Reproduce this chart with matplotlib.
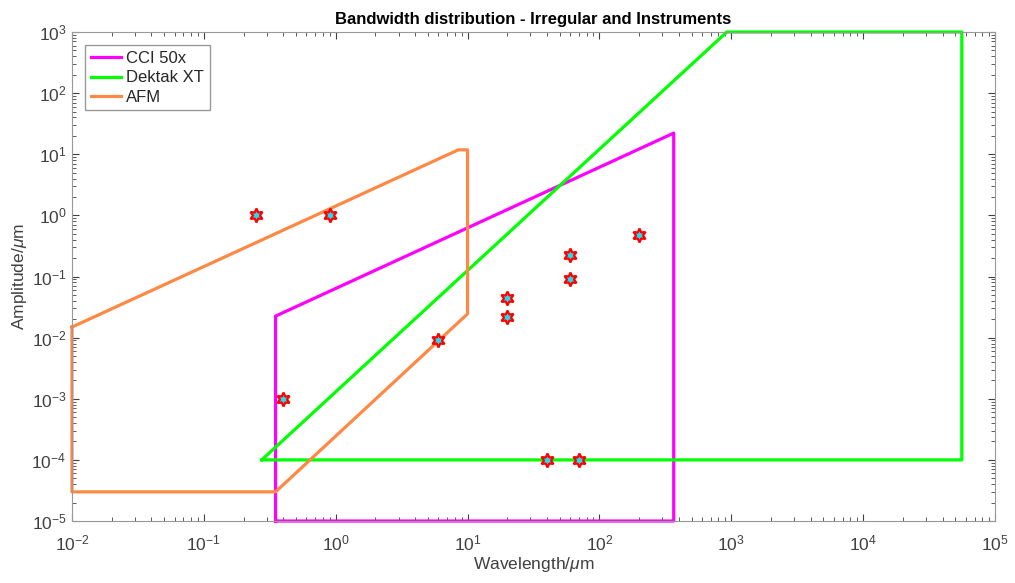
import matplotlib
matplotlib.use("Agg")
import matplotlib.pyplot as plt

plt.rcParams['font.family'] = ['Liberation Sans', 'DejaVu Sans']
plt.rcParams['mathtext.fontset'] = 'custom'
plt.rcParams['mathtext.rm'] = 'Liberation Sans'
plt.rcParams['mathtext.it'] = 'Liberation Sans:italic'

# instrument bandwidth outlines (wavelength um, amplitude um)
cci_x = [0.35, 0.35, 366, 366, 0.35]
cci_y = [1e-5, 0.0225, 22.2, 1e-5, 1e-5]

dektak_x = [0.275, 925, 5.6e4, 5.6e4, 0.275]
dektak_y = [1e-4, 1e3, 1e3, 1e-4, 1e-4]

afm_x = [0.01, 8.5, 10, 10, 0.35, 0.01, 0.01]
afm_y = [0.0149, 11.8, 11.8, 0.0245, 3e-5, 3e-5, 0.0149]

# irregular features
feat_x = [0.25, 0.9, 0.4, 6, 20, 20, 60, 60, 200, 40, 70]
feat_y = [1.0, 1.0, 1e-3, 0.009, 0.044, 0.022, 0.224, 0.09, 0.476, 1e-4, 1e-4]

ax_color = '#404040'

fig = plt.figure(figsize=(10.15, 5.83), dpi=100)
ax = fig.add_axes([0.0709, 0.1063, 0.9094, 0.8388])

ax.plot(cci_x, cci_y, color='#FF00FF', lw=2.3, label='CCI 50x', clip_on=False)
ax.plot(dektak_x, dektak_y, color='#00FF00', lw=2.3, label='Dektak XT', clip_on=False)
ax.plot(afm_x, afm_y, color='#FF8844', lw=2.3, label='AFM', clip_on=False)
ax.plot(feat_x, feat_y, ls='none', marker=(6, 1, 0), ms=10, mfc='#22DDEE',
        mec='#FF0000', mew=1.6, clip_on=False)

ax.set_xscale('log')
ax.set_yscale('log')
ax.set_xlim(1e-2, 1e5)
ax.set_ylim(1e-5, 1e3)
ax.set_xticks([10.0**k for k in range(-2, 6)])
ax.set_yticks([10.0**k for k in range(-5, 4)])

ax.tick_params(which='both', direction='in', top=True, right=True,
               colors=ax_color, labelsize=12.5)
ax.tick_params(axis='x', which='both', pad=9)
ax.tick_params(axis='y', which='both', pad=4)
ax.tick_params(which='major', length=5)
ax.tick_params(which='minor', length=3)
for s in ax.spines.values():
    s.set_color('#999999')
    s.set_linewidth(0.8)

ax.set_title('Bandwidth distribution - Irregular and Instruments',
             fontsize=12, fontweight='bold', pad=6)
ax.set_xlabel(r'Wavelength/$\mu$m', fontsize=12.5, color=ax_color, labelpad=1)
ax.set_ylabel(r'Amplitude/$\mu$m', fontsize=12.5, color=ax_color, labelpad=2)

leg = ax.legend(loc='upper left', fontsize=12, fancybox=False,
                framealpha=1, edgecolor='#999999', handlelength=1.8,
                borderaxespad=0.8, labelspacing=0.25, handletextpad=0.3,
                borderpad=0.35)
for t in leg.get_texts():
    t.set_color('#262626')

fig.savefig('out.png', dpi=100)
